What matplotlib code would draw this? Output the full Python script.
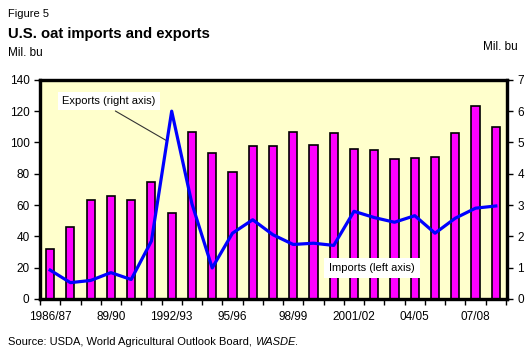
import matplotlib

matplotlib.use("Agg")
import matplotlib.pyplot as plt
import numpy as np

plt.rcParams["font.family"] = ["Liberation Sans", "DejaVu Sans"]

# marketing years 1986/87 .. 2008/09
years = [
    "1986/87", "87/88", "88/89", "89/90", "90/91", "91/92", "1992/93", "93/94",
    "94/95", "95/96", "96/97", "97/98", "98/99", "99/00", "2000/01", "2001/02",
    "02/03", "03/04", "04/05", "05/06", "06/07", "07/08", "08/09",
]
imports = [32, 46, 63, 66, 63, 75, 55, 107, 93, 81, 98, 98, 107, 98.5, 106,
           96, 95, 89.5, 90, 91, 106, 123, 110]
exports = [0.92, 0.52, 0.59, 0.84, 0.62, 1.85, 6.0, 3.04, 0.99, 2.1, 2.53,
           2.05, 1.74, 1.78, 1.71, 2.8, 2.6, 2.45, 2.66, 2.1, 2.58, 2.9, 2.97]
label_every = 3

x = np.arange(len(years))

fig = plt.figure(figsize=(5.3, 3.55), dpi=100)
ax = fig.add_axes([0.0755, 0.158, 0.881, 0.617])
ax.set_facecolor("#FFFFCC")

ax.bar(x, imports, width=0.4, color="#FF00FF", edgecolor="black", linewidth=1.2, zorder=2)
ax.set_ylim(0, 140)
ax.set_yticks(range(0, 141, 20))
ax.set_xlim(-0.45, len(years) - 0.45)

# ticks at category boundaries, labels under every third year
ax.set_xticks(np.arange(-0.5, len(years), 1), minor=False)
ax.set_xticklabels([])
ax.set_xticks(x[::label_every], minor=True)
ax.set_xticklabels([years[i] for i in x[::label_every]], minor=True)
ax.tick_params(axis="x", which="minor", length=0, pad=9, labelsize=8.5)
ax.tick_params(axis="x", which="major", direction="out", length=4, width=1)
ax.tick_params(axis="y", direction="out", length=4, width=1, labelsize=8.5)

for side in ax.spines.values():
    side.set_linewidth(2.3)

ax2 = ax.twinx()
ax2.plot(x, exports, color="#0000FF", linewidth=2.3, zorder=3)
ax2.set_ylim(0, 7)
ax2.set_yticks(range(0, 8))
ax2.tick_params(axis="y", direction="out", length=4, width=1, labelsize=8.5)
for side in ax2.spines.values():
    side.set_linewidth(2.3)

ax.annotate(
    "", xy=(5.9, 100), xytext=(3.1, 121),
    arrowprops=dict(arrowstyle="-", color="#333333", lw=0.8), zorder=4,
)
ax.text(2.9, 126.5, "Exports (right axis)", ha="center", va="center", fontsize=8,
        bbox=dict(facecolor="white", edgecolor="none", pad=3), zorder=5)
ax.text(15.9, 20, "Imports (left axis)", ha="center", va="center", fontsize=8,
        bbox=dict(facecolor="white", edgecolor="none", pad=3.5), zorder=5)

fig.text(0.015, 0.975, "Figure 5", fontsize=8, va="top")
fig.text(0.015, 0.905, "U.S. oat imports and exports", fontsize=10.7, fontweight="bold", va="center")
fig.text(0.015, 0.85, "Mil. bu", fontsize=8.5, va="center")
fig.text(0.912, 0.868, "Mil. bu", fontsize=8.5, va="center")

src = fig.text(0.015, 0.037, "Source: USDA, World Agricultural Outlook Board, ", fontsize=8, va="center")
fig.canvas.draw()
bb = src.get_window_extent().transformed(fig.transFigure.inverted())
wasde = fig.text(bb.x1, 0.037, "WASDE", fontsize=8, va="center", style="italic")
fig.canvas.draw()
bb2 = wasde.get_window_extent().transformed(fig.transFigure.inverted())
fig.text(bb2.x1, 0.037, ".", fontsize=8, va="center")

fig.savefig("out.png", dpi=100)
